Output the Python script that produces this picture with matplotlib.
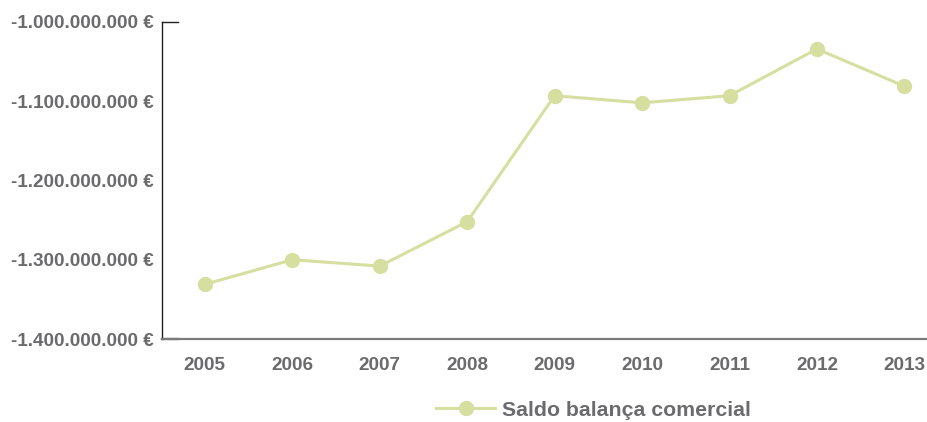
import numpy as np
import matplotlib.pyplot as plt
from matplotlib.ticker import FuncFormatter
from matplotlib.lines import Line2D

# Dados
anos = [2005, 2006, 2007, 2008, 2009, 2010, 2011, 2012, 2013]
saldo = [-1331e6, -1300e6, -1308e6, -1252e6, -1093e6, -1102e6, -1093e6, -1034e6, -1081e6]
y_ticks = [-1.4e9, -1.3e9, -1.2e9, -1.1e9, -1.0e9]
serie_nome = 'Saldo balança comercial'

cor_linha = '#d6dfa0'
cor_texto = '#6b6b6d'

plt.rcParams['font.family'] = ['Liberation Sans', 'DejaVu Sans']
plt.rcParams['font.weight'] = 'bold'


# Formata o eixo Y como "-1.000.000.000 €"
def euro_fmt(v, pos):
    return '{:,.0f} €'.format(v).replace(',', '.')


fig = plt.figure(figsize=(9.28, 4.22), dpi=100)
ax = fig.add_axes([162 / 928, 1 - 339 / 422, (928 - 162) / 928, (339 - 22) / 422])

ax.plot(anos, saldo, color=cor_linha, lw=2.2, marker='o', markersize=10,
        label=serie_nome, clip_on=False)

ax.set_xlim(2004.51, 2013.27)
ax.set_ylim(-1.4e9, -1.0e9)
ax.set_xticks(anos)
ax.set_yticks(y_ticks)
ax.yaxis.set_major_formatter(FuncFormatter(euro_fmt))
ax.tick_params(axis='both', length=0, labelsize=13.6, labelcolor=cor_texto)
ax.tick_params(axis='y', pad=6)
ax.tick_params(axis='x', pad=13)

for s in ['top', 'right']:
    ax.spines[s].set_visible(False)
ax.spines['left'].set_color('#222222')
ax.spines['left'].set_linewidth(1.0)
ax.spines['bottom'].set_color('#7a7a7a')
ax.spines['bottom'].set_linewidth(1.6)

# pequenos traços pretos no topo e na base do eixo Y
ax.add_line(Line2D([0, 0.021], [1, 1], transform=ax.transAxes, color='#222222', lw=1.0, clip_on=False))
ax.add_line(Line2D([0, 0.021], [0, 0], transform=ax.transAxes, color='#333333', lw=1.6, clip_on=False))

leg = ax.legend(loc='center', bbox_to_anchor=(0.563, -0.224), frameon=False,
                handlelength=2.8, handletextpad=0.3, fontsize=15.3)
for t in leg.get_texts():
    t.set_color(cor_texto)

fig.savefig('out.png', dpi=100)
